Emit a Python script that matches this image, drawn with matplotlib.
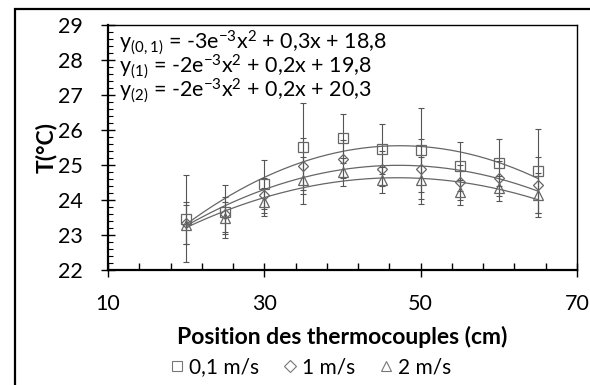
import numpy as np
import matplotlib
matplotlib.use("Agg")
import matplotlib.pyplot as plt
from matplotlib.ticker import FixedLocator, MultipleLocator
from matplotlib.lines import Line2D
from matplotlib.patches import Rectangle

plt.rcParams['font.family'] = ['Lato', 'DejaVu Sans']
plt.rcParams['mathtext.default'] = 'regular'

positions = [20, 25, 30, 35, 40, 45, 50, 55, 60, 65]
t_01 = [23.47, 23.67, 24.45, 25.52, 25.76, 25.45, 25.43, 24.96, 25.07, 24.83]
t_1 = [23.35, 23.60, 24.14, 24.98, 25.17, 24.90, 24.88, 24.51, 24.62, 24.43]
t_2 = [23.30, 23.48, 23.95, 24.57, 24.81, 24.57, 24.57, 24.22, 24.33, 24.14]
err_01 = [1.25, 0.75, 0.70, 1.24, 0.69, 0.71, 1.20, 0.70, 0.68, 1.19]
err_1 = [0.60, 0.50, 0.50, 0.80, 0.55, 0.50, 0.85, 0.50, 0.50, 0.80]
err_2 = [0.55, 0.45, 0.40, 0.67, 0.40, 0.36, 0.67, 0.35, 0.35, 0.63]
labels = ['0,1 m/s', '1 m/s', '2 m/s']
markers = ['s', 'D', '^']
equations = [r'y$_{(0,1)}$ = -3e$^{-3}$x$^{2}$ + 0,3x + 18,8',
             r'y$_{(1)}$ = -2e$^{-3}$x$^{2}$ + 0,2x + 19,8',
             r'y$_{(2)}$ = -2e$^{-3}$x$^{2}$ + 0,2x + 20,3']
x_major = [10, 30, 50, 70]
x_minor = [14, 18, 22, 26, 34, 38, 42, 46, 54, 58, 62, 66]

W, H = 590, 385
fig = plt.figure(figsize=(W / 100, H / 100), dpi=100)
ax = fig.add_axes([108 / W, (H - 270) / H, (577 - 108) / W, (270 - 25) / H])

mcol = '#666666'
series = [t_01, t_1, t_2]
errs = [err_01, err_1, err_2]
msizes = [7, 5.5, 7]
xs = np.array(positions, dtype=float)
xfit = np.linspace(min(positions), max(positions), 200)
for vals, e, m, ms in zip(series, errs, markers, msizes):
    ax.errorbar(positions, vals, yerr=e, fmt='none', ecolor='#555555',
                elinewidth=0.8, capsize=2.5, capthick=0.8, zorder=2)
    ax.plot(positions, vals, linestyle='none', marker=m, markersize=ms,
            markerfacecolor='none', markeredgecolor=mcol, markeredgewidth=0.9, zorder=3)
    coef = np.polyfit(xs, np.array(vals), 2)
    ax.plot(xfit, np.polyval(coef, xfit), color='#666666', linewidth=0.9, zorder=2)

ax.set_xlim(10, 70)
ax.set_ylim(22, 29)
ax.xaxis.set_major_locator(FixedLocator(x_major))
ax.xaxis.set_minor_locator(FixedLocator(x_minor))
ax.yaxis.set_major_locator(MultipleLocator(1))
ax.yaxis.set_minor_locator(MultipleLocator(0.2))
ax.tick_params(axis='x', which='major', direction='inout', length=10, width=1,
               labelsize=15.5, pad=12)
ax.tick_params(axis='x', which='minor', direction='in', length=5, width=1)
ax.tick_params(axis='y', which='major', direction='inout', length=10, width=1,
               labelsize=15.5, pad=13)
ax.tick_params(axis='y', which='minor', direction='in', length=3.5, width=0.8)
for s in ['left', 'bottom']:
    ax.spines[s].set_linewidth(1.6)
for s in ['top', 'right']:
    ax.spines[s].set_linewidth(1.0)

ax.set_xlabel('Position des thermocouples (cm)', fontsize=16.5, fontweight='bold', labelpad=9)
ax.set_ylabel('T(°C)', fontsize=16.5, fontweight='bold', labelpad=1)

fig.text(119 / W, (H - 29) / H, '\n'.join(equations), fontsize=15.5,
         va='top', ha='left', linespacing=0.77)

handles = [Line2D([], [], linestyle='none', marker=m, markersize=6.5,
                  markerfacecolor='none', markeredgecolor='#777777', markeredgewidth=0.8)
           for m in markers]
fig.legend(handles, labels, loc='center', bbox_to_anchor=(311 / W, (H - 367) / H),
           ncol=3, frameon=False, fontsize=15, handlelength=0.6, handletextpad=0.3,
           columnspacing=1.15, borderpad=0)

fig.patches.append(Rectangle((15 / W, -0.05), 1.2, (H - 9) / H + 0.05,
                             transform=fig.transFigure, fill=False,
                             edgecolor='black', linewidth=1.6))

fig.savefig('out.png', dpi=100)
